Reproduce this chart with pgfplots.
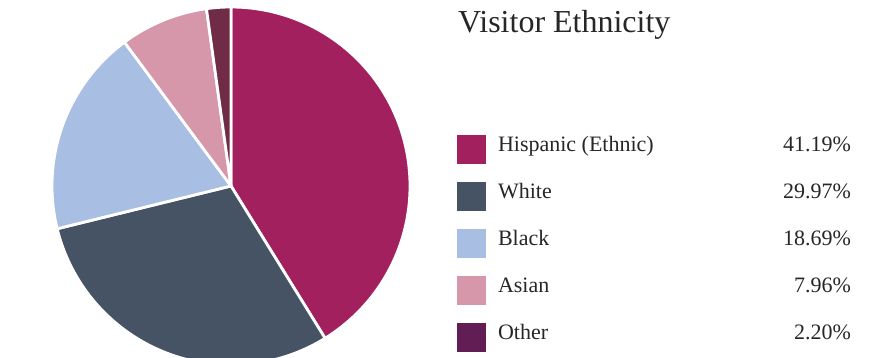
\documentclass[border=0pt]{standalone}
\usepackage{fontspec}
\setmainfont{Liberation Serif}
\usepackage{pgfplots}
\usepackage{pgfplotstable}
\pgfplotsset{compat=1.18}

\definecolor{hisp}{HTML}{A3205F}
\definecolor{whit}{HTML}{465365}
\definecolor{blak}{HTML}{A8BEE2}
\definecolor{asia}{HTML}{D597A9}
\definecolor{othr}{HTML}{702C46}
\definecolor{othrkey}{HTML}{621D55}
\definecolor{txt}{HTML}{262626}

% Visitor shares in percent
\pgfplotstableread{
group value
Hispanic 41.19
White 29.97
Black 18.69
Asian 7.96
Other 2.20
}\ethnicity

\newcommand\getshare[2]{\pgfplotstablegetelem{#1}{value}\of\ethnicity\edef#2{\pgfplotsretval}}
\getshare{0}\vA
\getshare{1}\vB
\getshare{2}\vC
\getshare{3}\vD
\getshare{4}\vE
% cumulative angles, clockwise from the top
\pgfmathsetmacro\aA{0}
\pgfmathsetmacro\aB{\aA+3.6*\vA}
\pgfmathsetmacro\aC{\aB+3.6*\vB}
\pgfmathsetmacro\aD{\aC+3.6*\vC}
\pgfmathsetmacro\aE{\aD+3.6*\vD}
\pgfmathsetmacro\aF{min(360,\aE+3.6*\vE)}

\begin{document}
\begin{tikzpicture}
\begin{axis}[
  scale only axis, width=886pt, height=358pt,
  xmin=0, xmax=886, ymin=0, ymax=358, y dir=reverse,
  axis lines=none, clip=true,
  samples=120, variable=\t,
  slice/.style={fill=#1, draw=white, line width=2.8pt, line join=round},
  legend image code/.code={\fill[#1, draw=none] (0pt,-13.5pt) rectangle (29pt,15.5pt);},
  legend cell align=left,
  legend style={at={(axis cs:457,135)}, anchor=north west, draw=none, fill=none,
    inner sep=0pt, outer sep=0pt, row sep=17.1pt, column sep=12pt,
    font=\fontsize{22pt}{22pt}\selectfont, text=txt,
    nodes={inner sep=0pt, text height=15.5pt, text depth=13.5pt}},
]
\addplot[slice=hisp, domain=\aA:\aB] ({231+179*sin(\t)}, {186-179*cos(\t)}) -- (231,186) -- cycle;
\addlegendentry{\makebox[353pt][l]{Hispanic (Ethnic)\hfill 41.19\%}}
\addplot[slice=whit, domain=\aB:\aC] ({231+179*sin(\t)}, {186-179*cos(\t)}) -- (231,186) -- cycle;
\addlegendentry{\makebox[353pt][l]{White\hfill 29.97\%}}
\addplot[slice=blak, domain=\aC:\aD] ({231+179*sin(\t)}, {186-179*cos(\t)}) -- (231,186) -- cycle;
\addlegendentry{\makebox[353pt][l]{Black\hfill 18.69\%}}
\addplot[slice=asia, domain=\aD:\aE] ({231+179*sin(\t)}, {186-179*cos(\t)}) -- (231,186) -- cycle;
\addlegendentry{\makebox[353pt][l]{Asian\hfill 7.96\%}}
\addplot[slice=othr, domain=\aE:\aF, samples=20, legend image post style={fill=othrkey}] ({231+179*sin(\t)}, {186-179*cos(\t)}) -- (231,186) -- cycle;
\addlegendentry{\makebox[353pt][l]{Other\hfill 2.20\%}}

\node[anchor=base west, inner sep=0pt, text=txt, font=\fontsize{32pt}{32pt}\selectfont]
  at (axis cs:458,33) {Visitor Ethnicity};
\end{axis}
% the frame is the axis box; the pie runs past its lower edge
\pgfresetboundingbox
\useasboundingbox (current axis.south west) rectangle (current axis.north east);
\end{tikzpicture}
\end{document}
